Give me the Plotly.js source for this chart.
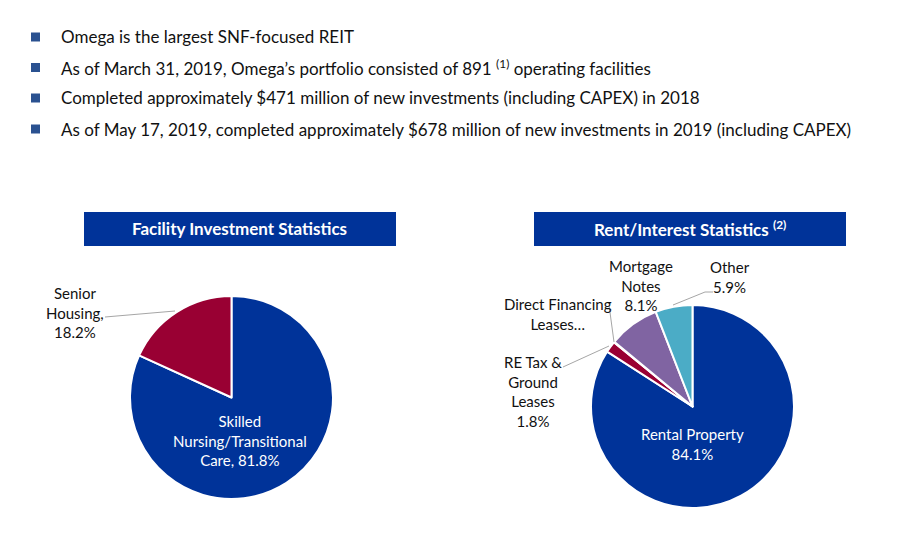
<!DOCTYPE html>
<html>
<head>
<meta charset="utf-8">
<script src="https://cdn.plot.ly/plotly-3.0.1.min.js"></script>
<style>html,body{margin:0;padding:0;background:#fff;}#chart{width:912px;height:535px;}</style>
</head>
<body>
<div id="chart"></div>
<script>
// ---- data ----
var bullets = [
  "Omega is the largest SNF-focused REIT",
  "As of March 31, 2019, Omega\u2019s portfolio consisted of 891 <sup>(1)</sup> operating facilities",
  "Completed approximately $471 million of new investments (including CAPEX) in 2018",
  "As of May 17, 2019, completed approximately $678 million of new investments in 2019 (including CAPEX)"
];
var facilityTitle = "Facility Investment Statistics";
var facilityLabels = ["Skilled Nursing/Transitional Care", "Senior Housing"];
var facilityValues = [81.8, 18.2];
var rentTitle = "Rent/Interest Statistics <sup>(2)</sup>";
var rentLabels = ["Rental Property", "RE Tax & Ground Leases", "Direct Financing Leases", "Mortgage Notes", "Other"];
var rentValues = [84.1, 1.8, 0.1, 8.1, 5.9];

// ---- helpers ----
var W = 912, H = 535;
function px(x){ return x / W; }
function py(y){ return 1 - y / H; }
var FONT = "Lato, 'Open Sans', sans-serif";

var blue = "#003399", crimson = "#990033", purple = "#8064A2", teal = "#4BACC6";

var traces = [
  {
    type: "pie", labels: facilityLabels, values: facilityValues,
    sort: false, direction: "clockwise", rotation: 0,
    marker: {colors: [blue, crimson], line: {color: "#fff", width: 2}},
    textinfo: "none", hoverinfo: "label+percent", showlegend: false,
    domain: {x: [px(130), px(333)], y: [py(499), py(296)]}
  },
  {
    type: "pie", labels: rentLabels, values: rentValues,
    sort: false, direction: "clockwise", rotation: 0,
    marker: {colors: [blue, crimson, "#C0504D", purple, teal], line: {color: "#fff", width: 2}},
    textinfo: "none", hoverinfo: "label+percent", showlegend: false,
    domain: {x: [px(591), px(794)], y: [py(508), py(305)]}
  }
];

var shapes = [];
var annotations = [];

// bullets
var rowY = [37, 67.5, 98, 129];
bullets.forEach(function(t, i){
  shapes.push({type: "rect", xref: "paper", yref: "paper",
    x0: px(31), x1: px(40), y0: py(rowY[i] - 4.5), y1: py(rowY[i] + 4.5),
    fillcolor: "#2A5190", line: {width: 0}});
  annotations.push({xref: "paper", yref: "paper", x: px(59), y: py(rowY[i]),
    xanchor: "left", yanchor: "middle", showarrow: false, text: t,
    font: {family: FONT, size: 17, color: "#111"}});
});

// title boxes
shapes.push({type: "rect", xref: "paper", yref: "paper", x0: px(84), x1: px(396), y0: py(246), y1: py(212), fillcolor: blue, line: {width: 0}});
shapes.push({type: "rect", xref: "paper", yref: "paper", x0: px(534), x1: px(846), y0: py(246), y1: py(212), fillcolor: blue, line: {width: 0}});
annotations.push({xref: "paper", yref: "paper", x: px(239), y: py(228.5), xanchor: "center", yanchor: "middle", showarrow: false,
  text: "<b>" + facilityTitle + "</b>", font: {family: FONT, size: 17, color: "#fff"}});
annotations.push({xref: "paper", yref: "paper", x: px(690), y: py(228.5), xanchor: "center", yanchor: "middle", showarrow: false,
  text: "<b>" + rentTitle + "</b>", font: {family: FONT, size: 17, color: "#fff"}});

function pct(v){ return v.toFixed(1) + "%"; }
var lblFont = {family: FONT, size: 15, color: "#111"};
var inFont = {family: FONT, size: 15, color: "#fff"};

// left pie labels
annotations.push({xref: "paper", yref: "paper", x: px(240), y: py(440.5), xanchor: "center", yanchor: "middle", showarrow: false,
  text: "Skilled<br>Nursing/Transitional<br>Care, " + pct(facilityValues[0]), font: inFont});
annotations.push({xref: "paper", yref: "paper", x: px(75), y: py(312), xanchor: "center", yanchor: "middle", showarrow: false,
  text: "Senior<br>Housing,<br>" + pct(facilityValues[1]), font: lblFont});
shapes.push({type: "line", xref: "paper", yref: "paper", x0: px(105), y0: py(317), x1: px(175), y1: py(311), line: {color: "#A6A6A6", width: 1}});

// right pie labels
annotations.push({xref: "paper", yref: "paper", x: px(692), y: py(443.5), xanchor: "center", yanchor: "middle", showarrow: false,
  text: "Rental Property<br>" + pct(rentValues[0]), font: inFont});
annotations.push({xref: "paper", yref: "paper", x: px(532.5), y: py(391), xanchor: "center", yanchor: "middle", showarrow: false,
  text: "RE Tax &<br>Ground<br>Leases<br>" + pct(rentValues[1]), font: lblFont});
annotations.push({xref: "paper", yref: "paper", x: px(557.5), y: py(313.5), xanchor: "center", yanchor: "middle", showarrow: false,
  text: "Direct Financing<br>Leases\u2026", font: lblFont});
annotations.push({xref: "paper", yref: "paper", x: px(641), y: py(285.5), xanchor: "center", yanchor: "middle", showarrow: false,
  text: "Mortgage<br>Notes<br>" + pct(rentValues[3]), font: lblFont});
annotations.push({xref: "paper", yref: "paper", x: px(730), y: py(276.5), xanchor: "center", yanchor: "middle", showarrow: false,
  text: "Other<br>" + pct(rentValues[4]), font: lblFont});
shapes.push({type: "line", xref: "paper", yref: "paper", x0: px(563), y0: py(367), x1: px(609), y1: py(346), line: {color: "#A6A6A6", width: 1}});
shapes.push({type: "line", xref: "paper", yref: "paper", x0: px(609), y0: py(305), x1: px(614), y1: py(342), line: {color: "#A6A6A6", width: 1}});
shapes.push({type: "line", xref: "paper", yref: "paper", x0: px(673), y0: py(305), x1: px(705), y1: py(292), line: {color: "#A6A6A6", width: 1}});
shapes.push({type: "line", xref: "paper", yref: "paper", x0: px(705), y0: py(292), x1: px(713), y1: py(292), line: {color: "#A6A6A6", width: 1}});

var layout = {
  width: W, height: H,
  margin: {l: 0, r: 0, t: 0, b: 0},
  paper_bgcolor: "#fff", plot_bgcolor: "#fff",
  showlegend: false,
  shapes: shapes, annotations: annotations
};
Plotly.newPlot("chart", traces, layout, {displayModeBar: false, staticPlot: true});
</script>
</body>
</html>
